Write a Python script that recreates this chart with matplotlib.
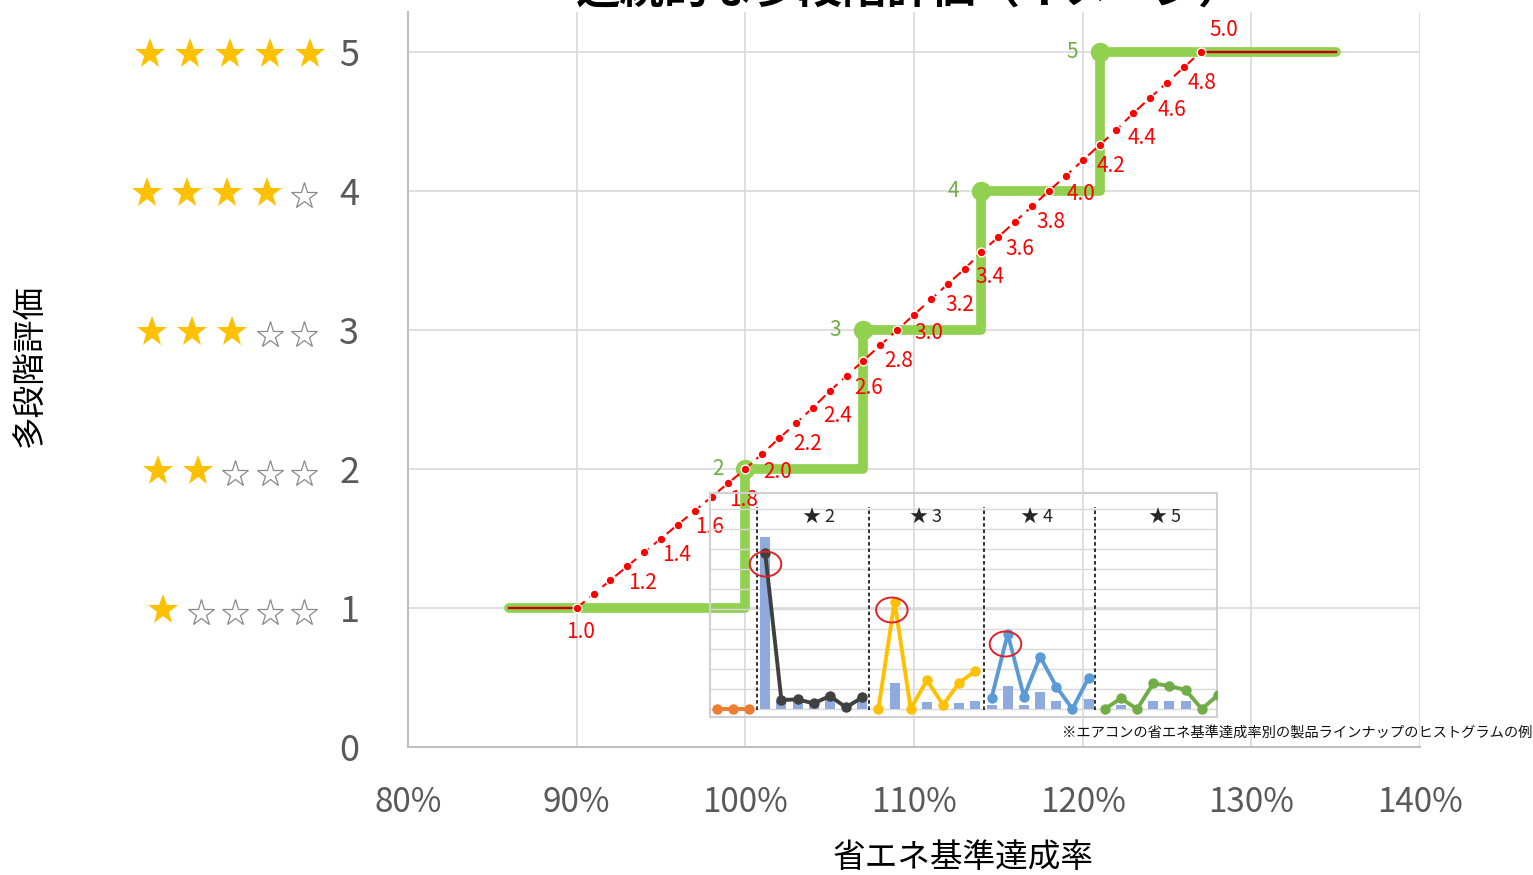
import numpy as np
import matplotlib.pyplot as plt
from matplotlib import transforms
from matplotlib.patches import Ellipse

plt.rcParams['font.family'] = ['Noto Sans CJK JP', 'DejaVu Sans']

W, H = 1533, 875

# stepwise rating (green)
step_rate = [86, 100, 100, 107, 107, 114, 114, 121, 121, 135]
step_level = [1, 1, 2, 2, 3, 3, 4, 4, 5, 5]
corner_rate = [100, 107, 114, 121]
corner_level = [2, 3, 4, 5]

# continuous rating (red), one dot per 1% of achievement rate
dot_rate = [90, 91, 92, 93, 94, 95, 96, 97, 98, 99, 100,
            101, 102, 103, 104, 105, 106, 107, 108, 109,
            110, 111, 112, 113, 114, 115, 116, 117, 118,
            119, 120, 121, 122, 123, 124, 125, 126, 127]
dot_score = [1.0, 1.1, 1.2, 1.3, 1.4, 1.5, 1.6, 1.7, 1.8, 1.9, 2.0,
             2.11, 2.22, 2.33, 2.44, 2.56, 2.67, 2.78, 2.89, 3.0,
             3.11, 3.22, 3.33, 3.44, 3.56, 3.67, 3.78, 3.89, 4.0,
             4.11, 4.22, 4.33, 4.44, 4.56, 4.67, 4.78, 4.89, 5.0]
label_rate = [90, 92, 94, 96, 98, 100, 101.8, 103.6, 105.4, 107.2, 109,
              110.8, 112.6, 114.4, 116.2, 118, 119.8, 121.6, 123.4, 125.2, 127]
label_score = [1.0, 1.2, 1.4, 1.6, 1.8, 2.0, 2.2, 2.4, 2.6, 2.8, 3.0,
               3.2, 3.4, 3.6, 3.8, 4.0, 4.2, 4.4, 4.6, 4.8, 5.0]
flat_low_rate, flat_low_score = [86, 90], [1, 1]
flat_high_rate, flat_high_score = [127, 135], [5, 5]

x_ticks = [80, 90, 100, 110, 120, 130, 140]
x_labels = ['80%', '90%', '100%', '110%', '120%', '130%', '140%']
y_levels = [0, 1, 2, 3, 4, 5]

# histogram of product lineup (inset)
bar_cat = [3, 4, 5, 6, 7, 9, 11, 13, 15, 16, 17, 18, 19, 20, 21, 23, 25, 27, 28, 29]
bar_val = [8.6, 0.4, 0.4, 0.3, 0.75, 0.6, 1.28, 0.37, 0.32, 0.42,
           0.2, 1.17, 0.2, 0.83, 0.38, 0.5, 0.2, 0.42, 0.42, 0.42]
series = [
    ([0, 1, 2], [0, 0, 0], '#ed7d31'),
    ([3, 4, 5, 6, 7, 8, 9], [7.8, 0.45, 0.48, 0.28, 0.65, 0.08, 0.58], '#404040'),
    ([10, 11, 12, 13, 14, 15, 16], [0, 5.37, 0, 1.45, 0.2, 1.32, 1.9], '#ffc000'),
    ([17, 18, 19, 20, 21, 22, 23], [0.57, 3.75, 0.62, 2.62, 1.12, 0, 1.57], '#5b9bd5'),
    ([24, 25, 26, 27, 28, 29, 30, 31], [0, 0.53, 0, 1.28, 1.15, 0.95, 0, 0.7], '#70ad47'),
]
sep_cat = [2.5, 9.4, 16.5, 23.4]
head_cat = [6.3, 12.95, 19.8, 27.7]
head_text = ['★ 2', '★ 3', '★ 4', '★ 5']
peak_cat = [3.02, 10.83, 17.86]
peak_val = [7.25, 4.95, 3.25]

fig = plt.figure(figsize=(W / 100, H / 100), dpi=100)
ax = fig.add_axes([408 / W, 1 - 747 / H, (1420 - 408) / W, (747 - 12) / H])
ax.set_xlim(80, 140)
ax.set_ylim(0, 735 / 139)
ax.set_axisbelow(True)
ax.grid(True, color='#d9d9d9', lw=1.2)
for s in ['top', 'right']:
    ax.spines[s].set_visible(False)
for s in ['left', 'bottom']:
    ax.spines[s].set_color('#bfbfbf')
    ax.spines[s].set_linewidth(1.5)
ax.set_xticks(x_ticks)
ax.set_xticklabels(x_labels, fontsize=24, color='#595959')
ax.set_yticks(y_levels)
ax.set_yticklabels([str(v) for v in y_levels], fontsize=26, color='#595959')
ax.tick_params(axis='x', length=0, pad=27)
ax.tick_params(axis='y', length=0, pad=35)

# green step line
ax.plot(step_rate, step_level, color='#92d050', lw=7, solid_capstyle='round',
        solid_joinstyle='round', zorder=3)
ax.plot(corner_rate, corner_level, 'o', color='#92d050', ms=13, zorder=3)
for r, lv in zip(corner_rate, corner_level):
    ax.annotate(str(lv), (r, lv), xytext=(-20, 0), textcoords='offset points',
                ha='center', va='center', fontsize=15, color='#70ad47', zorder=5)

# red continuous line
ax.plot(flat_low_rate, flat_low_score, color='#c00000', lw=1.7, zorder=4)
ax.plot(flat_high_rate, flat_high_score, color='#c00000', lw=1.7, zorder=4)
ax.plot(dot_rate, dot_score, color='#ff0000', lw=1.5, ls=(0, (5, 3)), zorder=4)
ax.plot(dot_rate, dot_score, 'o', color='#ff0000', ms=6.3, mec='white', mew=1.0, zorder=5)
for r, v in zip(label_rate, label_score):
    if v == 1.0:
        off = (3, -17)
    elif v == 5.0:
        off = (17, 16)
    else:
        off = (23, -2)
    ax.annotate(f'{v:.1f}', (r, v), xytext=off, textcoords='offset points',
                ha='center', va='center', fontsize=15, color='#ff0000', zorder=6)

# star ratings beside the y tick numbers
star_tr = transforms.blended_transform_factory(fig.transFigure, ax.transData)
for lv in y_levels[1:]:
    x = None
    prev = None
    for i in reversed(range(5)):
        filled = i < lv
        if x is None:
            x = 310 if filled else 304
        else:
            if filled and prev:
                x -= 40
            elif not filled and not prev:
                x -= 34.5
            else:
                x -= 37.5
        prev = filled
        if filled:
            ax.plot(x / W, lv - 0.015, marker='*', ms=23, color='#ffc000', mew=0,
                    transform=star_tr, clip_on=False)
        else:
            ax.plot(x / W, lv - 0.035, marker='*', ms=20, mfc='white', mec='#8a8a8a',
                    mew=0.9, transform=star_tr, clip_on=False)

# inset histogram
ins = fig.add_axes([710 / W, 1 - 717 / H, (1217 - 710) / W, (717 - 493) / H])
ins.set_facecolor('none')
ins.set_xlim((710 - 716.7) / 16.17, (1217 - 716.7) / 16.17)
ins.set_ylim(-0.4, 10.8)
ins.set_xticks([])
ins.set_yticks([])
for s in ins.spines.values():
    s.set_color('#d0d0d0')
    s.set_linewidth(1.5)
for g in range(11):
    ins.axhline(g, color='#d9d9d9', lw=1, zorder=0)
ins.bar(bar_cat, bar_val, width=0.62, color='#8faadc', zorder=1)
for cats, vals, c in series:
    ins.plot(cats, vals, '-o', color=c, lw=2.8, ms=6.5, zorder=3)
ins.vlines(sep_cat, -0.05, 10.1, colors='#202020', linestyles=(0, (2, 1.5)), lw=1.3, zorder=2)
for c, t in zip(head_cat, head_text):
    ins.text(c, 9.6, t, ha='center', va='center', fontsize=13, color='#262626')
for c, v in zip(peak_cat, peak_val):
    ins.add_patch(Ellipse((c, v), 1.95, 1.25, fill=False, ec='#e0202a', lw=1.4, zorder=4))

fig.text(1532 / W, 1 - 733 / H, '※エアコンの省エネ基準達成率別の製品ラインナップのヒストグラムの例',
         ha='right', va='center', fontsize=10.3, color='#111111')

fig.text(963 / W, 1 - 858 / H, '省エネ基準達成率', ha='center', va='center', fontsize=23.5)
fig.text(30 / W, 1 - 365 / H, '多段階評価', ha='center', va='center', fontsize=23.5,
         rotation=90)
fig.text(910 / W, 1 + 10 / H, '連続的な多段階評価（イメージ）', ha='center', va='center',
         fontsize=32, fontweight='bold')

fig.savefig('out.png', dpi=100)
